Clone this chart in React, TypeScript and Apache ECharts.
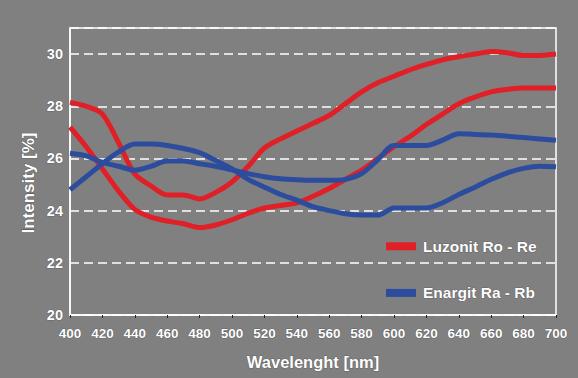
import React, { useEffect, useRef } from "react";
import * as echarts from "echarts";

const wavelengths = [400, 410, 420, 430, 440, 450, 460, 470, 480, 490, 500, 510, 520, 530, 540, 550, 560, 570, 580, 590, 600, 610, 620, 630, 640, 650, 660, 670, 680, 690, 700];

const luzonitRo = [28.15, 28.0, 27.7, 26.6, 25.4, 24.95, 24.6, 24.6, 24.45, 24.7, 25.1, 25.7, 26.4, 26.75, 27.05, 27.35, 27.65, 28.1, 28.55, 28.9, 29.15, 29.4, 29.6, 29.78, 29.9, 30.0, 30.1, 30.05, 29.95, 29.95, 30.0];
const luzonitRe = [27.2, 26.45, 25.6, 24.75, 24.05, 23.75, 23.6, 23.5, 23.35, 23.45, 23.65, 23.9, 24.1, 24.2, 24.3, 24.55, 24.85, 25.2, 25.55, 26.0, 26.45, 26.85, 27.3, 27.7, 28.1, 28.35, 28.55, 28.65, 28.7, 28.7, 28.7];
const enargitRa = [24.8, 25.3, 25.8, 26.25, 26.55, 26.55, 26.5, 26.38, 26.22, 25.92, 25.6, 25.2, 24.9, 24.62, 24.4, 24.15, 24.0, 23.88, 23.83, 23.83, 24.1, 24.1, 24.1, 24.3, 24.62, 24.9, 25.2, 25.45, 25.62, 25.7, 25.68];
const enargitRb = [26.2, 26.1, 25.85, 25.7, 25.55, 25.7, 25.9, 25.9, 25.8, 25.7, 25.56, 25.42, 25.3, 25.22, 25.18, 25.16, 25.16, 25.2, 25.42, 25.95, 26.5, 26.5, 26.5, 26.7, 26.95, 26.92, 26.9, 26.85, 26.8, 26.75, 26.7];

const seriesNames = ["Luzonit Ro - Re", "Enargit Ra - Rb"];
const xTicks = { min: 400, max: 700, interval: 20 };
const yTicks = { min: 20, max: 31, interval: 2 };

const RED = "#e01f27";
const BLUE = "#2c4c9e";
const BG = "#808080";

function pairs(vals: number[]) {
  return wavelengths.map((w, i) => [w, vals[i]]);
}

export default function App() {
  const ref = useRef<HTMLDivElement>(null);
  useEffect(() => {
    document.body.style.margin = "0";
    document.body.style.background = BG;
    const chart = echarts.init(ref.current!, null, { renderer: "svg" });
    const font = "Liberation Sans, Arial, sans-serif";
    const lineSeries = (name: string, data: number[], color: string) => ({
      type: "line",
      name,
      data: pairs(data),
      smooth: 0.3,
      showSymbol: false,
      symbol: "none",
      lineStyle: { color, width: 5 },
      itemStyle: { color },
    });
    chart.setOption({
      animation: false,
      backgroundColor: BG,
      grid: {
        left: 70,
        right: 22,
        top: 28,
        bottom: 63,
        show: true,
        borderColor: "#ffffff",
        borderWidth: 1.5,
        backgroundColor: "transparent",
      },
      xAxis: {
        type: "value",
        min: xTicks.min,
        max: xTicks.max,
        interval: xTicks.interval,
        axisLine: { show: true, lineStyle: { color: "#ffffff", width: 1.5 } },
        axisTick: { show: true, length: 3, lineStyle: { color: "#222222" } },
        splitLine: { show: false },
        axisLabel: {
          color: "#ffffff",
          fontFamily: font,
          fontWeight: "bold",
          fontSize: 13.5,
          margin: 11,
          textBorderColor: "#444444",
          textBorderWidth: 0.6,
        },
        name: "Wavelenght [nm]",
        nameLocation: "middle",
        nameGap: 38,
        nameTextStyle: {
          color: "#ffffff",
          fontFamily: font,
          fontWeight: "bold",
          fontSize: 16.5,
          textBorderColor: "#444444",
          textBorderWidth: 0.6,
        },
      },
      yAxis: {
        type: "value",
        min: yTicks.min,
        max: yTicks.max,
        interval: yTicks.interval,
        axisLine: { show: true, lineStyle: { color: "#ffffff", width: 1.5 } },
        axisTick: { show: false },
        splitLine: {
          show: true,
          lineStyle: { color: "#ffffff", type: [9, 5], width: 1.5 },
        },
        axisLabel: {
          color: "#ffffff",
          fontFamily: font,
          fontWeight: "bold",
          fontSize: 14.5,
          margin: 7,
          showMaxLabel: false,
          textBorderColor: "#444444",
          textBorderWidth: 0.6,
          formatter: (v: number) => (v % 2 === 0 ? String(v) : ""),
        },
      },
      legend: {
        orient: "vertical",
        left: 381,
        top: 233,
        icon: "rect",
        itemWidth: 30,
        itemHeight: 8,
        itemGap: 30,
        data: seriesNames,
        selectedMode: false,
        textStyle: {
          color: "#ffffff",
          fontFamily: font,
          fontWeight: "bold",
          fontSize: 15.5,
          lineHeight: 16,
          padding: [0, 0, 0, 2],
          textBorderColor: "#444444",
          textBorderWidth: 0.6,
        },
      },
      graphic: [
        {
          type: "text",
          x: 28,
          y: 183,
          rotation: Math.PI / 2,
          style: {
            text: "Intensity [%]",
            fill: "#ffffff",
            font: "bold 17px Liberation Sans, Arial, sans-serif",
            textAlign: "center",
            textVerticalAlign: "middle",
            stroke: "#444444",
            lineWidth: 0.6,
          },
        },
      ],
      series: [
        lineSeries(seriesNames[0], luzonitRo, RED),
        lineSeries(seriesNames[0], luzonitRe, RED),
        lineSeries(seriesNames[1], enargitRa, BLUE),
        lineSeries(seriesNames[1], enargitRb, BLUE),
      ],
    });
    return () => chart.dispose();
  }, []);
  return <div ref={ref} style={{ width: 578, height: 378 }} />;
}
